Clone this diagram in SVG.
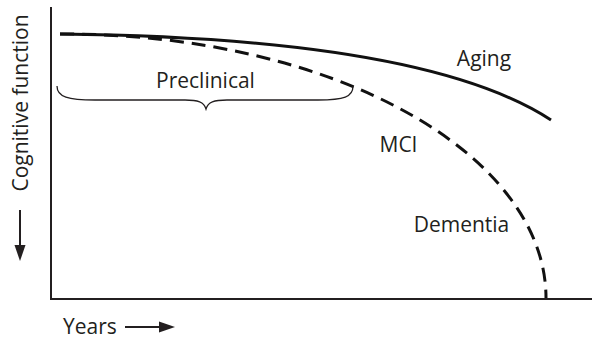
<svg xmlns="http://www.w3.org/2000/svg" width="592" height="339" viewBox="0 0 592 339">
<style>
.t{font-family:"Open Sans","Liberation Sans",sans-serif;font-size:21px;fill:#231f20}
.ax{stroke:#231f20;stroke-width:2;fill:none}
.cv{stroke:#111;stroke-width:3;fill:none}
</style>
<rect width="592" height="339" fill="#fff"/>
<g id="axes">
<path class="ax" d="M51,7 V299 H592"/>
</g>
<g id="connectors">
<path id="aging-curve" class="cv" d="M60,34 C250,36 450,54 551,120"/>
<path id="dementia-curve" class="cv" stroke-dasharray="14,8" d="M60,34 C335,33 546,155 546,298"/>
<path id="brace" d="M57,86 C57,97 68,100 95,100 L185,100 C198,100 204,102 206,109 C208,102 214,100 227,100 L318,100 C344,100 353,97 353,86" fill="none" stroke="#231f20" stroke-width="1.3"/>
<g id="y-arrow"><line x1="20" y1="210" x2="20" y2="248" stroke="#231f20" stroke-width="2"/><polygon points="14.5,245 25.5,245 20,261" fill="#231f20"/></g>
<g id="x-arrow"><line x1="125" y1="327" x2="162" y2="327" stroke="#231f20" stroke-width="2"/><polygon points="159,321.5 159,332.5 175,327" fill="#231f20"/></g>
</g>
<g id="labels">
<text id="preclinical" class="t" x="205.5" y="88" text-anchor="middle">Preclinical</text>
<text id="aging" class="t" x="484" y="66" text-anchor="middle">Aging</text>
<text id="mci" class="t" x="398.5" y="152" text-anchor="middle">MCI</text>
<text id="dementia" class="t" x="461.5" y="232" text-anchor="middle">Dementia</text>
<text id="years" class="t" x="63" y="334">Years</text>
<text id="ylabel" class="t" transform="translate(28,103) rotate(-90)" text-anchor="middle">Cognitive function</text>
</g>
</svg>
